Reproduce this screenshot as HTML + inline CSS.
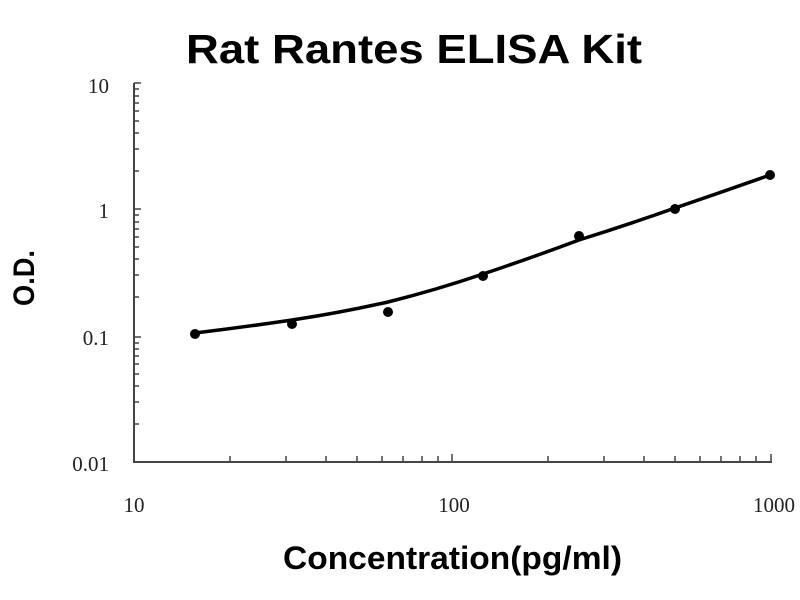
<!DOCTYPE html>
<html><head><style>body{margin:0;background:#fff}svg{display:block}</style></head><body>
<svg width="800" height="600" xmlns="http://www.w3.org/2000/svg" font-family="Liberation Sans, sans-serif">
<rect width="800" height="600" fill="#fff"/>
<text x="186" y="63" font-size="41" font-weight="bold" textLength="456" lengthAdjust="spacingAndGlyphs">Rat Rantes ELISA Kit</text>
<g stroke="#444" stroke-width="2" fill="none">
<path d="M134,83 V462 H772"/>
</g>
<g stroke="#444" stroke-width="1.5">
<path d="M134,83h7M134,209h7M134,337h7M134,462h7"/>
<path d="M134,171h5M134,149h5M134,133h5M134,121h5M134,111h5M134,103h5M134,96h5M134,89h5"/>
<path d="M134,297h5M134,275h5M134,259h5M134,247h5M134,237h5M134,229h5M134,222h5M134,215h5"/>
<path d="M134,424h5M134,402h5M134,386h5M134,374h5M134,364h5M134,356h5M134,349h5M134,343h5"/>
<path d="M230,462v-6M286,462v-6M326,462v-6M357,462v-6M382,462v-6M403,462v-6M422,462v-6M438,462v-6M452,462v-8"/>
<path d="M548,462v-6M604,462v-6M644,462v-6M675,462v-6M700,462v-6M721,462v-6M740,462v-6M756,462v-6M771,462v-8"/>
</g>
<g font-family="Liberation Serif, serif" font-size="21" fill="#222" text-anchor="end">
<text x="109" y="93">10</text><text x="109" y="218">1</text><text x="109" y="345">0.1</text><text x="109" y="471">0.01</text>
</g>
<g font-family="Liberation Serif, serif" font-size="21" fill="#222" text-anchor="middle">
<text x="134" y="512">10</text><text x="454" y="512">100</text><text x="774" y="512">1000</text>
</g>
<text x="283" y="569" font-size="32" font-weight="bold" textLength="339" lengthAdjust="spacingAndGlyphs">Concentration(pg/ml)</text>
<text transform="translate(34,306) rotate(-90)" font-size="30" font-weight="bold" textLength="56" lengthAdjust="spacingAndGlyphs">O.D.</text>
<path d="M195,333 Q245,327 292,320 T388,302 Q436,290 483,274 Q531,258 579,240 Q627,225 675,208 Q722,192 770,175" stroke="#000" stroke-width="3.5" fill="none"/>
<g fill="#000">
<circle cx="195" cy="334" r="5"/><circle cx="292" cy="324" r="5"/><circle cx="388" cy="312" r="5"/><circle cx="483" cy="276" r="5"/><circle cx="579" cy="236" r="5"/><circle cx="675" cy="209" r="5"/><circle cx="770" cy="175" r="5"/>
</g>
</svg>
</body></html>
